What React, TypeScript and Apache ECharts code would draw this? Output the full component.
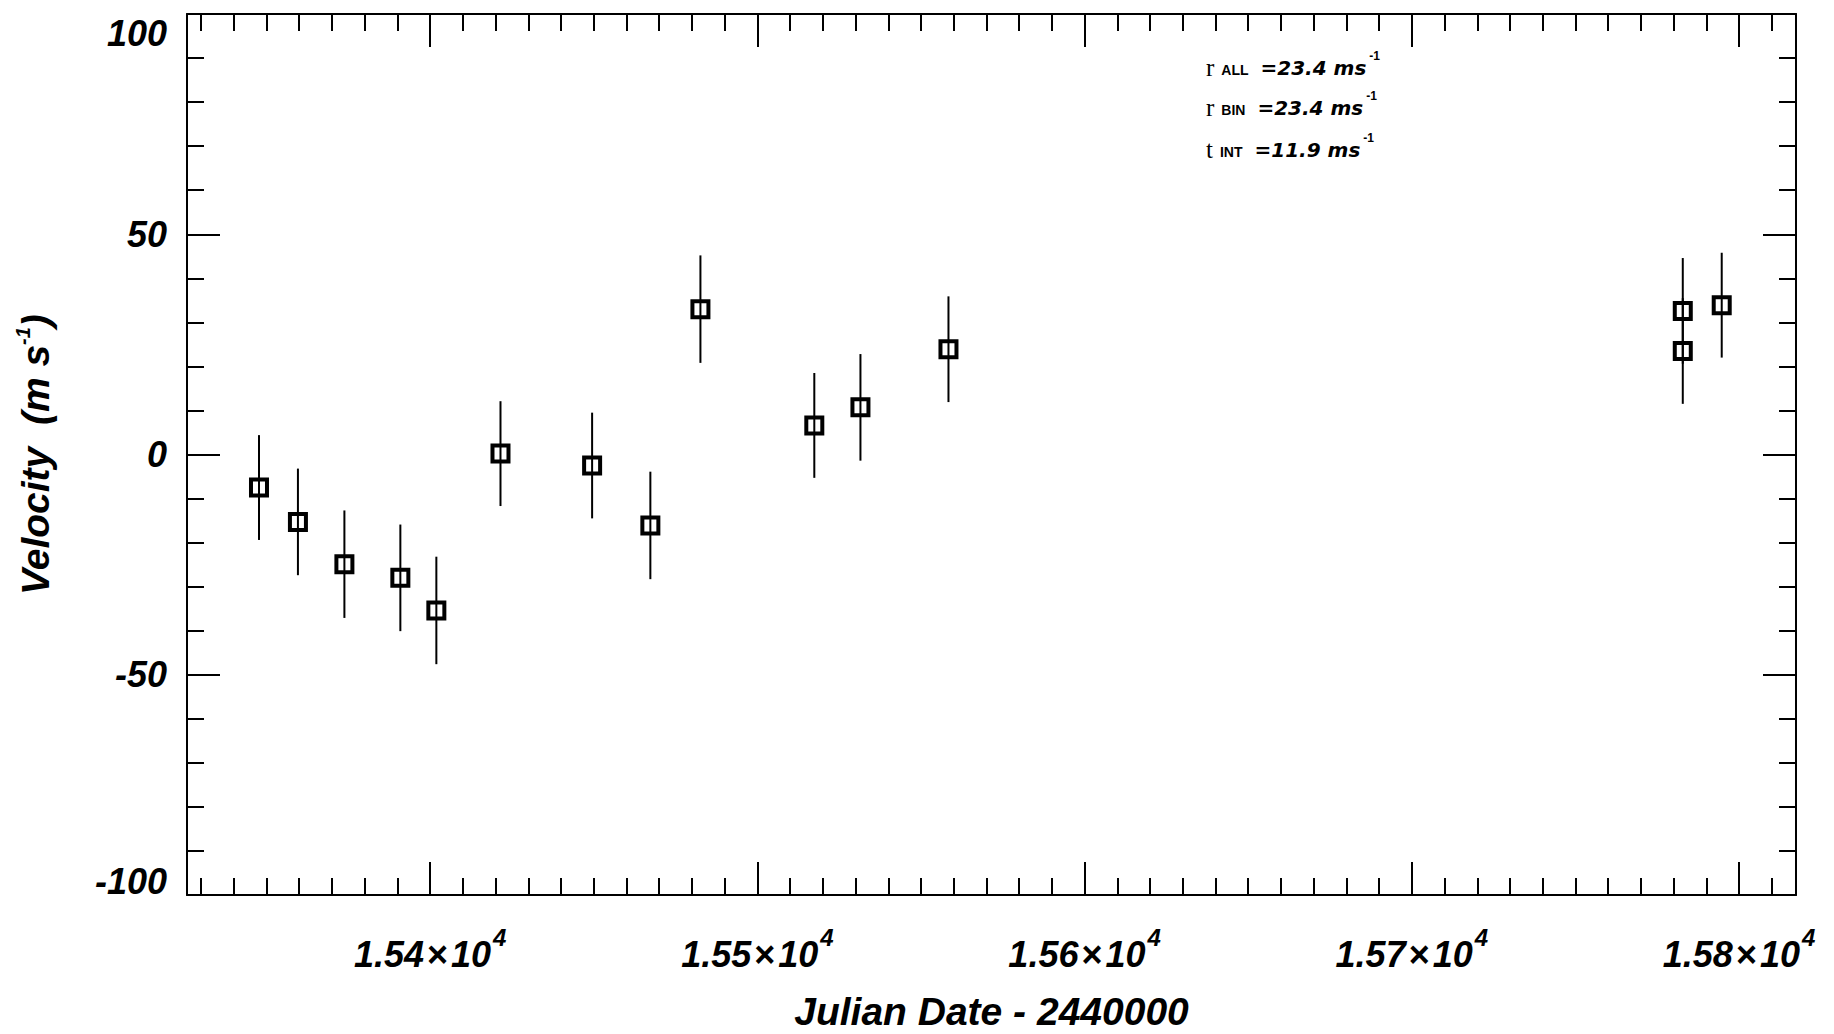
import React, { useEffect, useRef } from 'react';
import * as echarts from 'echarts';

// ---- data ----
const julianDates = [15347.7, 15359.6, 15373.8, 15390.9, 15401.9, 15421.5, 15449.5, 15467.3, 15482.6, 15517.4, 15531.5, 15558.4, 15782.8, 15782.8, 15794.7];
const velocities = [-7.5, -15.3, -24.9, -28.0, -35.4, 0.2, -2.5, -16.1, 33.0, 6.6, 10.7, 23.9, 32.6, 23.5, 33.9];
const velocityErrors = [11.9, 12.1, 12.2, 12.1, 12.2, 11.9, 12.0, 12.2, 12.2, 11.9, 12.1, 12.0, 12.0, 12.0, 11.9];

const xMajorMin = 15400;
const xMajorMax = 15800;
const xMinorMin = 15330;
const xMinorMax = 15810;
const xRange = [15325.7, 15817.4];
const yRange = [-100, 100];

const statSymbols = ['r', 'r', 't'];
const statSubscripts = ['ALL', 'BIN', 'INT'];
const statValues = ['23.4', '23.4', '11.9'];

const xTitle = 'Julian Date - 2440000';
const yTitle = 'Velocity  (m s{sup|-1})';

// ---- layout ----
const PLOT_LEFT = 187;
const PLOT_TOP = 14;
const PLOT_W = 1609;
const PLOT_H = 881;
const PX_PER_UNIT = PLOT_W / (xRange[1] - xRange[0]);

const FONT = "'Liberation Sans', Arial, sans-serif";
const BASE = { fontFamily: FONT, fontWeight: 'bold' as const, fontStyle: 'italic' as const, color: '#000' };
const LINE = { color: '#000', width: 2 };

export default function App() {
  const ref = useRef<HTMLDivElement>(null);
  useEffect(() => {
    if (!ref.current) return;
    const chart = echarts.init(ref.current, undefined, { renderer: 'svg' });

    const minorLeft = PLOT_LEFT + (xMinorMin - xRange[0]) * PX_PER_UNIT;
    const minorWidth = (xMinorMax - xMinorMin) * PX_PER_UNIT;
    const majorLeft = PLOT_LEFT + (xMajorMin - xRange[0]) * PX_PER_UNIT;
    const majorWidth = (xMajorMax - xMajorMin) * PX_PER_UNIT;

    const noSplit = { show: false };
    const grids = [
      { left: PLOT_LEFT, top: PLOT_TOP, width: PLOT_W, height: PLOT_H, outerBoundsMode: 'none', containLabel: false },
      { left: minorLeft, top: PLOT_TOP, width: minorWidth, height: PLOT_H, outerBoundsMode: 'none', containLabel: false },
      { left: majorLeft, top: PLOT_TOP, width: majorWidth, height: PLOT_H, outerBoundsMode: 'none', containLabel: false },
    ];

    const yLabelRich = {
      n: { ...BASE, fontSize: 36 },
      t: { ...BASE, fontSize: 36, padding: [38, 0, 0, 0] },
      b: { ...BASE, fontSize: 36, padding: [0, 0, 28, 0] },
    };

    const option: any = {
      animation: false,
      backgroundColor: '#fff',
      grid: grids,
      xAxis: [
        {
          gridIndex: 0, type: 'value', min: xRange[0], max: xRange[1], position: 'bottom',
          axisLine: { show: true, onZero: false, lineStyle: LINE },
          axisTick: { show: false }, axisLabel: { show: false }, splitLine: noSplit,
          name: xTitle, nameLocation: 'middle', nameGap: 96,
          nameTextStyle: { ...BASE, fontSize: 39, lineHeight: 40 },
        },
        {
          gridIndex: 0, type: 'value', min: xRange[0], max: xRange[1], position: 'top',
          axisLine: { show: true, onZero: false, lineStyle: LINE },
          axisTick: { show: false }, axisLabel: { show: false }, splitLine: noSplit,
        },
        {
          gridIndex: 1, type: 'value', min: xMinorMin, max: xMinorMax, interval: 10, position: 'bottom',
          axisLine: { show: false, onZero: false },
          axisTick: { show: true, inside: true, length: 17, lineStyle: LINE },
          axisLabel: { show: false }, splitLine: noSplit,
        },
        {
          gridIndex: 1, type: 'value', min: xMinorMin, max: xMinorMax, interval: 10, position: 'top',
          axisLine: { show: false, onZero: false },
          axisTick: { show: true, inside: true, length: 17, lineStyle: LINE },
          axisLabel: { show: false }, splitLine: noSplit,
        },
        {
          gridIndex: 2, type: 'value', min: xMajorMin, max: xMajorMax, interval: 100, position: 'bottom',
          axisLine: { show: false, onZero: false },
          axisTick: { show: true, inside: true, length: 33, lineStyle: LINE },
          axisLabel: {
            show: true, margin: 30, showMinLabel: true, showMaxLabel: true,
            formatter: (v: number) => `{n|${(v / 1e4).toFixed(2)}}{x|×}{n|10}{s|4}`,
            rich: {
              n: { ...BASE, fontSize: 36 },
              x: { ...BASE, fontStyle: 'normal', fontSize: 36, padding: [0, 3, 0, 3] },
              s: { ...BASE, fontSize: 24, padding: [0, 0, 35, 2] },
            },
          },
          splitLine: noSplit,
        },
        {
          gridIndex: 2, type: 'value', min: xMajorMin, max: xMajorMax, interval: 100, position: 'top',
          axisLine: { show: false, onZero: false },
          axisTick: { show: true, inside: true, length: 33, lineStyle: LINE },
          axisLabel: { show: false }, splitLine: noSplit,
        },
      ],
      yAxis: [
        {
          gridIndex: 0, type: 'value', min: yRange[0], max: yRange[1], interval: 50, position: 'left',
          axisLine: { show: true, onZero: false, lineStyle: LINE },
          axisTick: { show: true, inside: true, length: 33, lineStyle: LINE },
          minorTick: { show: true, splitNumber: 5, length: 17, lineStyle: LINE },
          minorSplitLine: { show: false }, splitLine: noSplit,
          axisLabel: {
            show: true, margin: 20,
            formatter: (v: number) => (v === yRange[1] ? `{t|${v}}` : v === yRange[0] ? `{b|${v}}` : `{n|${v}}`),
            rich: yLabelRich,
          },
          name: yTitle, nameLocation: 'middle', nameRotate: 90, nameGap: 130,
          nameTextStyle: {
            ...BASE, fontSize: 39,
            rich: { sup: { ...BASE, fontSize: 20, padding: [0, 0, 24, 0] } },
          },
        },
        {
          gridIndex: 0, type: 'value', min: yRange[0], max: yRange[1], interval: 50, position: 'right',
          axisLine: { show: true, onZero: false, lineStyle: LINE },
          axisTick: { show: true, inside: true, length: 33, lineStyle: LINE },
          minorTick: { show: true, splitNumber: 5, length: 17, lineStyle: LINE },
          minorSplitLine: { show: false }, splitLine: noSplit,
          axisLabel: { show: false },
        },
        { gridIndex: 1, type: 'value', min: 0, max: 1, show: false },
        { gridIndex: 2, type: 'value', min: 0, max: 1, show: false },
      ],
      series: [
        {
          type: 'custom', xAxisIndex: 0, yAxisIndex: 0, silent: true, z: 2,
          data: julianDates.map((x, i) => [x, velocities[i] - velocityErrors[i], velocities[i] + velocityErrors[i]]),
          renderItem: (_p: any, api: any) => {
            const a = api.coord([api.value(0), api.value(1)]);
            const b = api.coord([api.value(0), api.value(2)]);
            return {
              type: 'line',
              shape: { x1: a[0], y1: a[1], x2: b[0], y2: b[1] },
              style: { stroke: '#000', lineWidth: 2 },
            };
          },
        },
        {
          type: 'scatter', xAxisIndex: 0, yAxisIndex: 0, z: 3, silent: true,
          data: julianDates.map((x, i) => [x, velocities[i]]),
          symbol: 'rect', symbolSize: 16,
          itemStyle: { color: 'rgba(0,0,0,0)', borderColor: '#000', borderWidth: 4, opacity: 1 },
        },
      ],
      graphic: statSymbols.map((sym, i) => ({
        type: 'text',
        x: 1206,
        y: [68, 108, 150][i],
        silent: true,
        style: {
          text: `{g|${sym}}{sub|${statSubscripts[i]}}{m|=${statValues[i]} ms}{sup|-1}`,
          verticalAlign: 'middle',
          align: 'left',
          rich: {
            g: { fontFamily: "'Liberation Serif', serif", fontSize: 25, color: '#000', padding: [0, 0, 2, 0] },
            sub: { fontFamily: FONT, fontWeight: 'bold', fontSize: 14, color: '#000', padding: [4, 12, 0, 7] },
            m: { fontFamily: "'DejaVu Sans', sans-serif", fontWeight: 'bold', fontStyle: 'italic', fontSize: 20, color: '#000' },
            sup: { fontFamily: FONT, fontWeight: 'bold', fontSize: 12, color: '#000', padding: [0, 0, 24, 3] },
          },
        },
      })),
    };

    chart.setOption(option);
    return () => chart.dispose();
  }, []);

  return (
    <div
      ref={ref}
      style={{ position: 'fixed', left: 0, top: 0, width: 1834, height: 1034, background: '#fff' }}
    />
  );
}
